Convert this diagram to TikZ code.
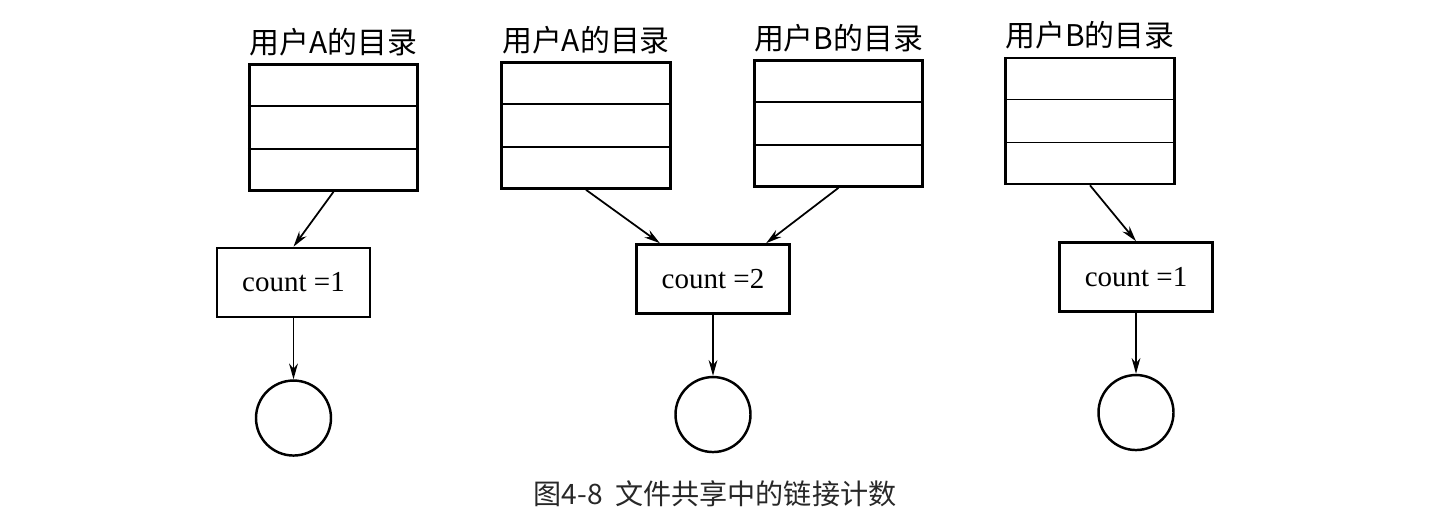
\documentclass[tikz,border=0pt]{standalone}
\usepackage{fontspec}
\setmainfont{Liberation Serif}
\newfontfamily\cjk{Noto Sans CJK SC}
\usetikzlibrary{positioning}
\usetikzlibrary{calc}
\usetikzlibrary{arrows.meta}
\definecolor{captiongray}{RGB}{40,40,40}

\tikzset{
  dirbox/.style={draw, line width=1.5pt, minimum width=3.37cm, minimum height=2.52cm, inner sep=0pt},
  dirlabel/.style={font=\cjk\fontsize{17}{19}\selectfont, inner sep=0pt},
  countbox/.style={draw, line width=1.5pt, minimum width=3.06cm, minimum height=1.38cm, font=\fontsize{16.5}{18}\selectfont},
  filenode/.style={draw, circle, line width=1.4pt, minimum size=1.5cm, inner sep=0pt},
  link/.style={line width=1pt, -{Stealth[length=9pt,width=5pt]}}
}

\begin{document}
\begin{tikzpicture}
  \useasboundingbox (0,0) rectangle (28.92,10.56);

  % directories
  \node[dirbox] (a) at (6.67,8.01) {};
  \node[dirbox] (b) at (11.72,8.05) {};
  \node[dirbox] (c) at (16.77,8.09) {};
  \node[dirbox] (d) at (21.80,8.14) {};
  \foreach \n in {a,b,c,d}
    \foreach \f in {1/3,2/3}
      \draw[line width=1pt] ($(\n.north west)!\f!(\n.south west)$) -- ($(\n.north east)!\f!(\n.south east)$);

  \node[dirlabel,above=0.14cm of a] (la) {用户A的目录};
  \node[dirlabel,above=0.14cm of b] (lb) {用户A的目录};
  \node[dirlabel,above=0.14cm of c] (lc) {用户B的目录};
  \node[dirlabel,above=0.14cm of d] (ld) {用户B的目录};

  % link counters
  \node[countbox] (e) at (5.87,4.91) {count =1};
  \node[countbox] (f) at (14.26,4.98) {count =2};
  \node[countbox] (g) at (22.72,5.02) {count =1};

  % files
  \node[filenode,below=1.22cm of e] (h) {};
  \node[filenode,below=1.22cm of f] (i) {};
  \node[filenode,below=1.22cm of g] (j) {};

  \path [link] (a.south) edge (e.north);
  \path [link] (b.south) edge (f.146);
  \path [link] (c.south) edge (f.34);
  \path [link] (d.south) edge (g.north);
  \path [link] (e) edge (h);
  \path [link] (f) edge (i);
  \path [link] (g) edge (j);

  \node[font=\cjk\fontsize{16}{18}\selectfont, text=captiongray] (cap) at (14.3,0.68) {图4-8\ \ 文件共享中的链接计数};
\end{tikzpicture}
\end{document}
